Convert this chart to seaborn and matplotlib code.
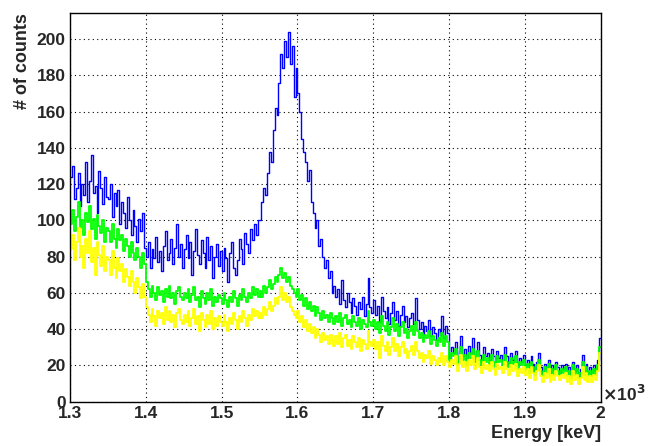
import numpy as np
import pandas as pd
import matplotlib
matplotlib.use("Agg")
import matplotlib.pyplot as plt
from matplotlib import ticker
import seaborn as sns

# bins in keV, 2.5 keV wide, 1300 - 2000
bin_width = 2.5
centers = np.arange(1300, 2000, bin_width) + bin_width / 2

# blue spectrum (with the peak), 20 bins per row = 50 keV
blue = [124, 130, 112, 118, 126, 108, 120, 114, 132, 110, 122, 136, 115, 119, 104, 127, 118, 109, 124, 113,
        112, 120, 102, 115, 108, 117, 98, 110, 104, 96, 113, 100, 92, 106, 97, 88, 101, 94, 104, 85,
        80, 88, 74, 84, 79, 91, 77, 83, 72, 86, 94, 78, 82, 90, 76, 85, 98, 80, 87, 74,
        84, 92, 79, 88, 70, 83, 95, 81, 76, 89, 82, 74, 91, 78, 86, 68, 80, 87, 75, 83,
        72, 85, 79, 66, 82, 88, 74, 70, 78, 90, 84, 76, 93, 87, 82, 95, 89, 98, 92, 100,
        100, 110, 118, 114, 126, 138, 132, 150, 162, 158, 176, 192, 184, 199, 190, 204, 186, 196, 168, 184,
        170, 160, 145, 138, 132, 122, 128, 110, 104, 96, 100, 86, 90, 80, 74, 78, 68, 72, 60, 64,
        58, 62, 54, 67, 56, 52, 60, 55, 49, 57, 53, 48, 55, 51, 58, 47, 54, 68, 52, 49,
        56, 48, 53, 44, 58, 50, 46, 52, 43, 49, 55, 45, 50, 42, 48, 53, 44, 47, 41, 46,
        49, 43, 57, 45, 40, 44, 37, 42, 39, 45, 36, 41, 38, 34, 40, 37, 47, 35, 42, 38,
        24, 30, 27, 33, 22, 28, 36, 25, 29, 23, 31, 27, 35, 24, 28, 33, 26, 22, 30, 25,
        27, 23, 29, 25, 21, 28, 24, 26, 22, 30, 25, 21, 27, 23, 25, 28, 20, 24, 22, 26,
        20, 23, 18, 25, 21, 17, 22, 27, 19, 16, 21, 18, 23, 15, 20, 17, 22, 19, 16, 20,
        18, 21, 16, 19, 15, 22, 17, 20, 14, 18, 26, 17, 21, 16, 19, 15, 20, 17, 23, 35]

# green spectrum
green = [98, 106, 94, 102, 110, 96, 100, 92, 104, 99, 108, 95, 101, 90, 103, 97, 93, 100, 88, 96,
         94, 88, 98, 90, 85, 95, 89, 92, 83, 90, 86, 80, 88, 82, 78, 85, 80, 74, 82, 76,
         66, 62, 58, 64, 60, 56, 63, 59, 61, 55, 62, 58, 64, 57, 60, 54, 61, 63, 58, 56,
         60, 57, 62, 55, 59, 63, 56, 58, 52, 61, 57, 54, 60, 56, 62, 53, 58, 55, 59, 57,
         54, 60, 56, 52, 58, 55, 61, 57, 53, 59, 56, 62, 58, 55, 60, 57, 63, 59, 62, 58,
         61, 58, 64, 60, 63, 67, 62, 65, 69, 66, 70, 74, 68, 71, 66, 69, 64, 62, 60, 58,
         62, 56, 59, 53, 57, 51, 55, 50, 53, 47, 52, 49, 45, 50, 46, 48, 44, 49, 46, 43,
         47, 44, 49, 42, 46, 48, 43, 45, 41, 47, 44, 42, 46, 40, 45, 43, 41, 50, 44, 42,
         45, 40, 44, 38, 47, 42, 39, 44, 37, 41, 46, 39, 43, 36, 41, 44, 38, 40, 35, 39,
         42, 37, 44, 39, 35, 38, 33, 37, 35, 39, 32, 36, 34, 31, 35, 33, 38, 31, 36, 33,
         23, 27, 25, 29, 21, 25, 30, 23, 26, 21, 27, 24, 29, 22, 25, 28, 23, 20, 26, 22,
         24, 21, 26, 22, 19, 25, 22, 23, 20, 26, 22, 19, 24, 21, 22, 25, 18, 22, 20, 23,
         18, 21, 16, 22, 19, 15, 20, 23, 17, 14, 19, 16, 21, 14, 18, 15, 20, 17, 15, 18,
         16, 19, 14, 17, 13, 20, 15, 18, 13, 16, 22, 15, 19, 14, 17, 14, 18, 15, 20, 30]

# yellow spectrum
yellow = [84, 92, 78, 88, 96, 80, 86, 74, 90, 82, 94, 77, 85, 70, 88, 81, 75, 86, 72, 80,
          78, 70, 83, 74, 68, 79, 72, 76, 66, 73, 69, 64, 72, 66, 60, 68, 63, 57, 65, 58,
          52, 48, 44, 51, 47, 42, 50, 46, 49, 43, 52, 45, 50, 44, 48, 41, 49, 51, 45, 43,
          48, 44, 50, 42, 46, 51, 43, 47, 39, 49, 45, 41, 48, 43, 50, 40, 46, 42, 47, 44,
          42, 48, 44, 39, 46, 43, 49, 45, 40, 47, 44, 50, 46, 42, 48, 45, 51, 47, 50, 46,
          49, 46, 52, 48, 51, 55, 50, 53, 57, 54, 58, 63, 56, 60, 55, 58, 52, 50, 48, 46,
          50, 44, 47, 41, 45, 39, 43, 38, 41, 35, 40, 37, 33, 38, 34, 36, 32, 37, 34, 31,
          36, 32, 38, 30, 35, 37, 31, 34, 29, 36, 33, 30, 35, 28, 34, 32, 29, 39, 33, 31,
          34, 29, 33, 24, 36, 31, 28, 33, 26, 30, 35, 28, 32, 25, 30, 33, 27, 29, 24, 28,
          31, 26, 33, 28, 24, 27, 22, 26, 24, 28, 21, 25, 23, 20, 24, 22, 27, 20, 25, 22,
          19, 23, 21, 25, 17, 21, 26, 19, 22, 17, 23, 20, 25, 18, 21, 24, 19, 16, 22, 18,
          20, 17, 22, 18, 15, 21, 18, 19, 16, 22, 18, 15, 20, 17, 18, 21, 14, 18, 16, 19,
          15, 18, 13, 19, 16, 12, 17, 20, 14, 11, 16, 13, 18, 11, 15, 12, 17, 14, 12, 15,
          13, 16, 11, 14, 10, 17, 12, 15, 10, 13, 19, 12, 16, 11, 14, 11, 15, 12, 17, 27]

sns.set_style("white")
plt.rcParams['font.family'] = ['Liberation Sans', 'DejaVu Sans']
plt.rcParams['font.weight'] = 'bold'

fig = plt.figure(figsize=(6.52, 4.46), dpi=100)
ax = fig.add_axes([0.1074, 0.0993, 0.8139, 0.8716])

for vals, col, lw in [(blue, '#0000ff', 1.0), (green, '#00ff00', 1.3), (yellow, '#ffff00', 1.3)]:
    df = pd.DataFrame({'energy': centers, 'counts': vals})
    sns.histplot(data=df, x='energy', weights='counts', binwidth=bin_width, binrange=(1300, 2000),
                 element='step', fill=False, color=col, linewidth=lw, ax=ax)

ax.set_xlim(1300, 2000)
ax.set_ylim(0, 214.4)

ax.xaxis.set_major_locator(ticker.MultipleLocator(100))
ax.xaxis.set_minor_locator(ticker.MultipleLocator(20))
ax.yaxis.set_major_locator(ticker.MultipleLocator(20))
ax.yaxis.set_minor_locator(ticker.MultipleLocator(4))
ax.xaxis.set_major_formatter(ticker.FuncFormatter(lambda v, p: f"{v/1000:g}"))

ax.grid(True, which='major', color='black', linestyle=(0, (1, 3)), linewidth=0.8)
ax.set_axisbelow(True)

ax.tick_params(axis='both', which='major', direction='in', length=8, width=1,
               labelsize=12.5, top=False, right=False, pad=3)
ax.tick_params(axis='both', which='minor', direction='in', length=4, width=1,
               top=False, right=False)
for lab in ax.get_xticklabels() + ax.get_yticklabels():
    lab.set_fontweight('bold')

for s in ax.spines.values():
    s.set_color('black')
    s.set_linewidth(1)

ax.set_xlabel('Energy [keV]', fontsize=13, fontweight='bold', ha='right', x=1.0)
ax.set_ylabel('# of counts', fontsize=13, fontweight='bold', ha='right', y=1.0)
ax.xaxis.set_label_coords(1.0, -0.06)
ax.yaxis.set_label_coords(-0.074, 1.0)

ax.text(1.003, -0.006, r'$\times$10$^{3}$', transform=ax.transAxes, fontsize=12.5,
        fontweight='bold', ha='left', va='bottom')

fig.savefig('out.png', dpi=100)
